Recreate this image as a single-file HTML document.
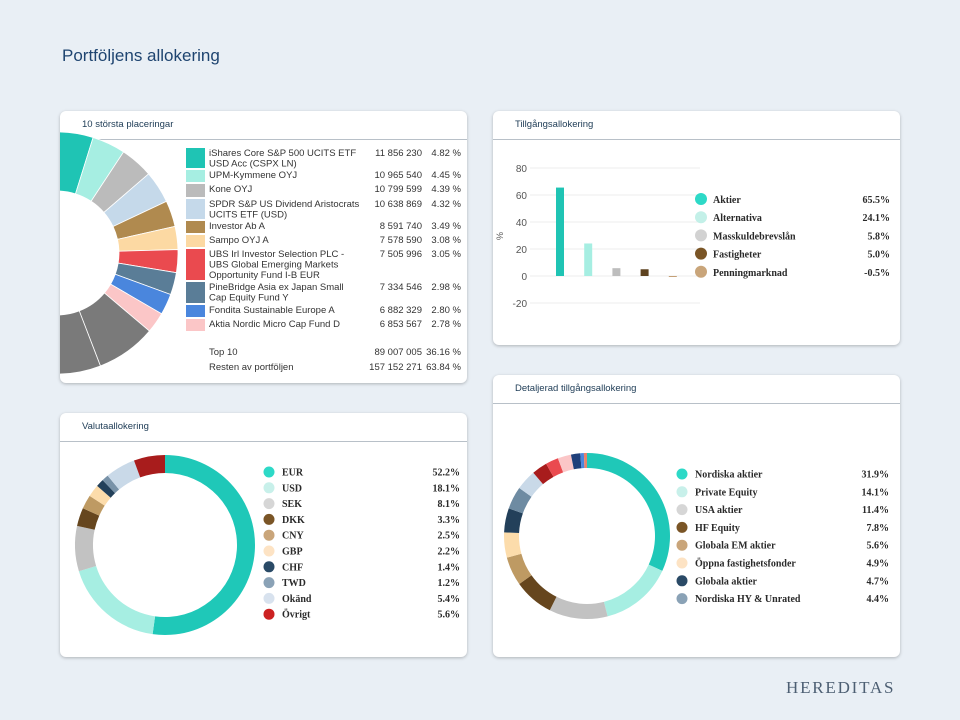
<!DOCTYPE html>
<html><head><meta charset="utf-8">
<style>
body{margin:0;width:960px;height:720px;background:#e9eff5;font-family:"Liberation Sans",sans-serif;position:relative;overflow:hidden}
.card{position:absolute;background:#fff;border-radius:6px;box-shadow:0 1px 3px rgba(0,0,0,.25);overflow:hidden}
.ct{position:absolute;left:22px;top:8px;font-size:9.5px;color:#1d3b55}
.hl{position:absolute;left:0;right:0;height:1px;background:#b8c0c8}
svg{position:absolute;left:0;top:0}
.ser{font-family:"Liberation Serif",serif;font-weight:bold;font-size:10px;fill:#2a2a2a}
</style></head><body>
<div style="position:absolute;left:62px;top:46px;font-size:17px;color:#1e4470">Portföljens allokering</div>
<div style="position:absolute;left:786px;top:678px;font-family:'Liberation Serif',serif;font-size:17px;letter-spacing:1.8px;color:#4d5f73">HEREDITAS</div>

<div class="card" style="left:60px;top:111px;width:407px;height:272px">
 <div class="ct">10 största placeringar</div>
 <div class="hl" style="top:28px"></div>
 <svg id="s1" width="407" height="272"></svg>
</div>
<div class="card" style="left:493px;top:111px;width:407px;height:234px">
 <div class="ct">Tillgångsallokering</div>
 <div class="hl" style="top:28px"></div>
 <svg id="s2" width="407" height="234"></svg>
</div>
<div class="card" style="left:60px;top:413px;width:407px;height:244px">
 <div class="ct">Valutaallokering</div>
 <div class="hl" style="top:28px"></div>
 <svg id="s3" width="407" height="244"></svg>
</div>
<div class="card" style="left:493px;top:375px;width:407px;height:282px">
 <div class="ct">Detaljerad tillgångsallokering</div>
 <div class="hl" style="top:28px"></div>
 <svg id="s4" width="407" height="282"></svg>
</div>

<script>
const NS="http://www.w3.org/2000/svg";
function mk(p,t,a,txt){const e=document.createElementNS(NS,t);for(const k in a)e.setAttribute(k,a[k]);if(txt!==undefined)e.textContent=txt;p.appendChild(e);return e;}
function arc(cx,cy,R,r,a0,a1){const f=a=>[Math.sin(a),-Math.cos(a)];const[s0,c0]=f(a0),[s1,c1]=f(a1);const l=(a1-a0)>Math.PI?1:0;
return `M${cx+R*s0},${cy+R*c0}A${R},${R} 0 ${l} 1 ${cx+R*s1},${cy+R*c1}L${cx+r*s1},${cy+r*c1}A${r},${r} 0 ${l} 0 ${cx+r*s0},${cy+r*c0}Z`;}

// ---- Top holdings data
const holdNames=[["iShares Core S&P 500 UCITS ETF","USD Acc (CSPX LN)"],["UPM-Kymmene OYJ"],["Kone OYJ"],["SPDR S&P US Dividend Aristocrats","UCITS ETF (USD)"],["Investor Ab A"],["Sampo OYJ A"],["UBS Irl Investor Selection PLC -","UBS Global Emerging Markets","Opportunity Fund I-B EUR"],["PineBridge Asia ex Japan Small","Cap Equity Fund Y"],["Fondita Sustainable Europe A"],["Aktia Nordic Micro Cap Fund D"]];
const holdValues=["11 856 230","10 965 540","10 799 599","10 638 869","8 591 740","7 578 590","7 505 996","7 334 546","6 882 329","6 853 567"];
const holdPct=[4.82,4.45,4.39,4.32,3.49,3.08,3.05,2.98,2.80,2.78];
const holdColors=["#1fc4b4","#a6eee2","#bbbbbb","#c5d9ea","#b08a4f","#fcd9a3","#ea4a4f","#5a7d97","#4a86dd","#fbc6c7"];
const restSlices=[8,8,8,8,8,8,8,7.84];
const totalRows=[["Top 10","89 007 005","36.16 %"],["Resten av portföljen","157 152 271","63.84 %"]];
(function(){const s=document.getElementById('s1');const cx=-3,cy=142,R=121,r=62;
 const all=holdPct.concat(restSlices);const tot=all.reduce((a,b)=>a+b,0);let a=0;
 all.forEach((v,i)=>{const a1=a+v/tot*2*Math.PI;const p=mk(s,'path',{d:arc(cx,cy,R,r,a,a1),fill:i<10?holdColors[i]:'#7a7a7a',stroke:'#fff','stroke-width':0.8});
  a=a1;});
 let y=37;const rh=[22,14,15,22,14,14,33,23,14,14];
 holdNames.forEach((n,i)=>{const g=mk(s,'g',{});
  mk(g,'rect',{x:126,y:y,width:19,height:rh[i]-2,fill:holdColors[i]});
  n.forEach((t,j)=>mk(g,'text',{x:149,y:y+8+j*10.5,'font-size':9.5,fill:'#333'},t));
  mk(g,'text',{x:362,y:y+8,'font-size':9.5,fill:'#333','text-anchor':'end'},holdValues[i]);
  mk(g,'text',{x:401,y:y+8,'font-size':9.5,fill:'#333','text-anchor':'end'},holdPct[i].toFixed(2)+' %');y+=rh[i];});
 totalRows.forEach((r2,i)=>{const yy=244+i*15;const g=mk(s,'g',{});
  mk(g,'text',{x:149,y:yy,'font-size':9.5,fill:'#333'},r2[0]);mk(g,'text',{x:362,y:yy,'font-size':9.5,fill:'#333','text-anchor':'end'},r2[1]);mk(g,'text',{x:401,y:yy,'font-size':9.5,fill:'#333','text-anchor':'end'},r2[2]);});
})();

// ---- Asset allocation bar chart
const assetCats=["Aktier","Alternativa","Masskuldebrevslån","Fastigheter","Penningmarknad"];
const assetVals=[65.5,24.1,5.8,5.0,-0.5];
const assetColors=["#1fc4b4","#a6eee2","#bdbdbd","#5e4320","#c4a077"];
const legendColors=["#2dd9c7","#c3f0e8","#d2d2d2","#7a5526","#c9a57a"];
const yTicks=[80,60,40,20,0,-20];
(function(){const s=document.getElementById('s2');const y=v=>165-v*1.35;const x=i=>67+i*28.2;
 yTicks.forEach(t=>{mk(s,'line',{x1:37,x2:207,y1:y(t),y2:y(t),stroke:'#eeeeee'});const tx=mk(s,'text',{x:34,y:y(t)+4,'font-size':10,fill:'#555','text-anchor':'end'},t);});
 const yl=mk(s,'text',{x:10,y:125,'font-size':9,fill:'#555',transform:'rotate(-90 10 125)','text-anchor':'middle'},'%');
 assetVals.forEach((v,i)=>{const b=mk(s,'rect',{x:x(i)-4,y:Math.min(y(v),y(0)),width:8,height:Math.max(Math.abs(y(v)-y(0)),1),fill:assetColors[i]});});
 assetCats.forEach((c,i)=>{const yy=88+i*18.2;const g=mk(s,'g',{});
  mk(g,'circle',{cx:208,cy:yy,r:6,fill:legendColors[i]});mk(g,'text',{x:220,y:yy+4,class:'ser','font-size':10.5},c);mk(g,'text',{x:397,y:yy+4,class:'ser','font-size':10.5,'text-anchor':'end'},assetVals[i].toFixed(1)+'%');});
})();

// ---- Currency donut
const curCats=["EUR","USD","SEK","DKK","CNY","GBP","CHF","TWD","Okänd","Övrigt"];
const curVals=[52.2,18.1,8.1,3.3,2.5,2.2,1.4,1.2,5.4,5.6];
const curColors=["#1fc8b8","#a6eee2","#c2c2c2","#66461e","#be9a63","#fcdcab","#23405a","#7892a8","#c9d9e8","#a81c1c"];
const curLegend=["#2dd9c7","#c8f0ea","#d6d6d6","#7a5526","#c9a57a","#fde3c4","#2a4a66","#8aa2b6","#d8e2ee","#cc2222"];
// ---- Detailed donut
const detCats=["Nordiska aktier","Private Equity","USA aktier","HF Equity","Globala EM aktier","Öppna fastighetsfonder","Globala aktier","Nordiska HY & Unrated"];
const detVals=[31.9,14.1,11.4,7.8,5.6,4.9,4.7,4.4,4.0,3.0,2.5,2.6,1.8,0.7,0.6];
const detColors=["#1fc8b8","#a6eee2","#c2c2c2","#66461e","#be9a63","#fcdcab","#23405a","#6e8ba2","#c9d9e8","#a81c1c","#ea4a4f","#fbc6c7","#1f3f7a","#4a86dd","#e8826a"];
const detLegend=["#2dd9c7","#c8f0ea","#d6d6d6","#7a5526","#c9a57a","#fde3c4","#2a4a66","#8aa2b6"];
function donut(id,cx,cy,R,r,vals,cols,cats,lcol,lx,ly,ld,vx,name){const s=document.getElementById(id);const tot=vals.reduce((a,b)=>a+b,0);let a=0;
 vals.forEach((v,i)=>{const a1=a+v/tot*2*Math.PI;const p=mk(s,'path',{d:arc(cx,cy,R,r,a,a1),fill:cols[i]});a=a1;});
 cats.forEach((c,i)=>{const yy=ly+i*ld;const g=mk(s,'g',{});
  mk(g,'circle',{cx:lx,cy:yy,r:5.5,fill:lcol[i]});mk(g,'text',{x:lx+13,y:yy+3.5,class:'ser','font-size':10},c);mk(g,'text',{x:vx,y:yy+3.5,class:'ser','font-size':10,'text-anchor':'end'},vals[i].toFixed(1)+'%');});}
donut('s3',105,132,90,72,curVals,curColors,curCats,curLegend,209,59,15.8,400,'currency');
donut('s4',94,161,83,68,detVals,detColors,detCats,detLegend,189,99,17.8,396,'detailed');
</script>
</body></html>
